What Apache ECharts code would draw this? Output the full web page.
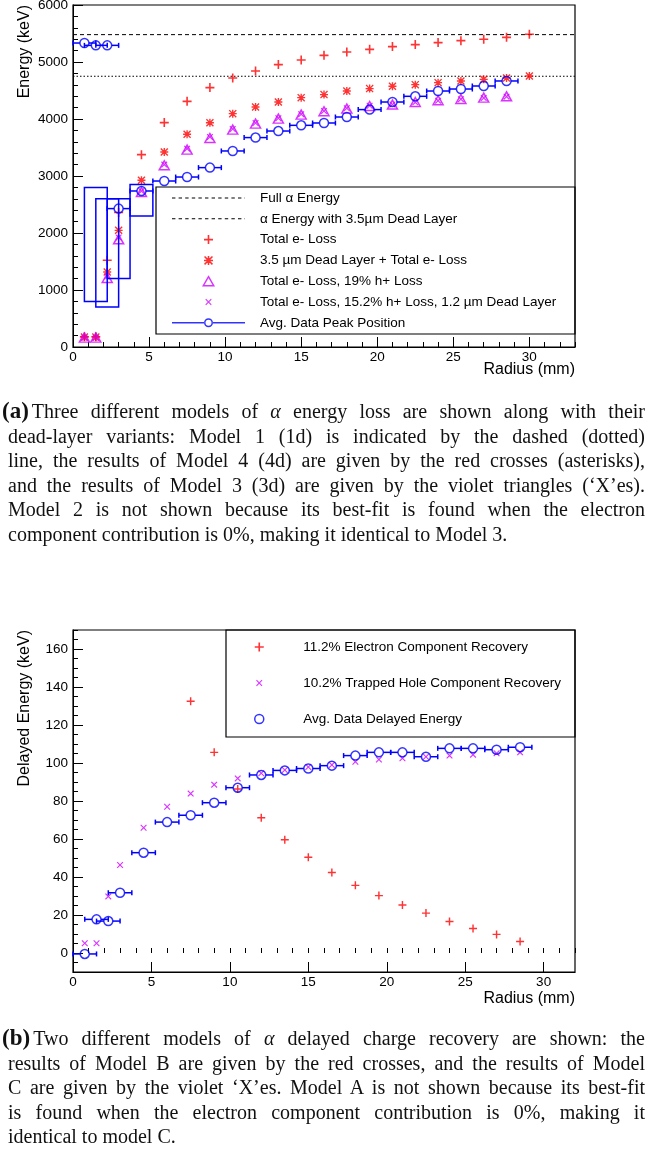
<!DOCTYPE html>
<html>
<head>
<meta charset="utf-8">
<script src="https://cdn.jsdelivr.net/npm/echarts@6.0.0/dist/echarts.min.js"></script>
<style>
html,body{margin:0;padding:0;background:#ffffff;width:646px;height:1149px;overflow:hidden;}
#chart{position:absolute;left:0;top:0;width:646px;height:1149px;}
.ln{position:absolute;font-family:'Liberation Serif','Times New Roman',serif;font-size:20px;line-height:24px;height:24px;color:#111;overflow:visible;}
.j{text-align:justify;text-align-last:justify;}
.tag{font-weight:bold;font-size:23px;margin-right:3px;}
</style>
</head>
<body>
<div id="chart"></div>
<div id="captions"></div>
<script>
// ================= Panel (a) data =================
const radiusModelA = [0.75,1.5,2.25,3,4.5,6,7.5,9,10.5,12,13.5,15,16.5,18,19.5,21,22.5,24,25.5,27,28.5,30];
const totalELoss = [180,180,1521,2360,3375,3937,4310,4551,4720,4842,4954,5035,5117,5175,5222,5270,5305,5340,5375,5398,5433,5486];
const deadLayerTotalELoss = [175,175,1316,2047,2925,3421,3732,3935,4094,4211,4298,4375,4428,4491,4533,4574,4603,4638,4667,4696,4719,4754];
const radiusHoleA = [0.75,1.5,2.25,3,4.5,6,7.5,9,10.5,12,13.5,15,16.5,18,19.5,21,22.5,24,25.5,27,28.5];
const holeLoss19 = [165,165,1211,1889,2719,3188,3463,3667,3814,3919,4007,4077,4135,4182,4228,4253,4298,4328,4351,4375,4398];
const holeLoss152Dead12 = [160,160,1240,1920,2735,3200,3480,3685,3825,3930,4015,4085,4140,4190,4232,4255,4292,4322,4348,4370,4392];
const radiusDataA = [0.75,1.5,2.25,3,4.5,6,7.5,9,10.5,12,13.5,15,16.5,18,19.5,21,22.5,24,25.5,27,28.5];
const peakPosition = [5333,5292,5292,2428,2737,2912,2982,3147,3439,3674,3789,3889,3930,4035,4165,4298,4398,4491,4526,4579,4667];
const peakRadiusErr = [0.75,0.75,0.75,0.75,0.75,0.75,0.75,0.75,0.75,0.75,0.75,0.75,0.75,0.75,0.75,0.75,0.75,0.75,0.75,0.75,0.75];
const alphaLineRadius = [0, 33];
const fullAlphaEnergy = [5480, 5480];
const deadLayerAlphaEnergy = [4750, 4750];
const boxX0 = [0.75, 1.5, 2.25, 3.75];
const boxX1 = [2.25, 3.0, 3.75, 5.25];
const boxYLow = [800, 700, 1200, 2300];
const boxYHigh = [2800, 2600, 2600, 2850];

// ================= Panel (b) data =================
const radiusElectronB = [7.5,9,10.5,12,13.5,15,16.5,18,19.5,21,22.5,24,25.5,27,28.5];
const electronRecovery = [132.5,105.6,86.3,71.2,59.6,50.4,42.4,35.6,30.2,25.3,21.0,16.6,12.9,9.8,6.1];
const radiusB = [0.75,1.5,2.25,3,4.5,6,7.5,9,10.5,12,13.5,15,16.5,18,19.5,21,22.5,24,25.5,27,28.5];
const holeRecovery = [5.1,5.1,29.8,46.3,65.9,77.0,83.9,88.6,91.9,94.6,96.3,97.9,99.0,100.7,101.8,102.5,103.3,103.9,104.4,105.1,105.6];
const delayedEnergy = [-0.5,17.7,16.8,31.7,52.8,68.9,72.5,79.1,87.0,93.7,96.1,97.1,98.6,103.9,105.6,105.6,103.3,107.7,107.7,107.0,108.3];
const delayedRadiusErr = [0.75,0.75,0.75,0.75,0.75,0.75,0.75,0.75,0.75,0.75,0.75,0.75,0.75,0.75,0.75,0.75,0.75,0.75,0.75,0.75,0.75];

// ================= tick labels =================
const yTicksB = [0,20,40,60,80,100,120,140,160];

// ================= captions =================
const captionA = [
  '<span class="tag">(a)</span>Three different models of <i>α</i> energy loss are shown along with their',
  'dead-layer variants: Model 1 (1d) is indicated by the dashed (dotted)',
  'line, the results of Model 4 (4d) are given by the red crosses (asterisks),',
  'and the results of Model 3 (3d) are given by the violet triangles (‘X’es).',
  'Model 2 is not shown because its best-fit is found when the electron',
  'component contribution is 0%, making it identical to Model 3.'
];
const captionB = [
  '<span class="tag">(b)</span>Two different models of <i>α</i> delayed charge recovery are shown: the',
  'results of Model B are given by the red crosses, and the results of Model',
  'C are given by the violet ‘X’es. Model A is not shown because its best-fit',
  'is found when the electron component contribution is 0%, making it',
  'identical to model C.'
];

(function buildCaptions(){
  const host = document.getElementById('captions');
  function put(lines, firstCenter, step){
    lines.forEach((t, i) => {
      const d = document.createElement('div');
      const last = i === lines.length - 1;
      d.className = 'ln' + (last ? '' : ' j');
      d.style.left = (i === 0 ? 2 : 8) + 'px';
      d.style.width = (i === 0 ? 643 : 637) + 'px';
      d.style.top = (firstCenter - 12 + i * step) + 'px';
      d.innerHTML = t;
      host.appendChild(d);
    });
  }
  put(captionA, 411, 24.5);
  put(captionB, 1038, 24.5);
})();

// ================= styles =================
const FONT = '"Liberation Sans", Arial, Helvetica, sans-serif';
const RED = '#ff0000', VIOLET = '#d000ff', BLUE = '#0000ff', BLACK = '#000000';
const TICK_FONT = 13.5;

const PLUS = 'path://M4.1,0H5.9V4.1H10V5.9H5.9V10H4.1V5.9H0V4.1H4.1Z';
const XPATH = 'M9.19,0L10.46,1.27L6.5,5.23L10.46,9.19L9.19,10.46L5.23,6.5L1.27,10.46L0,9.19L3.96,5.23L0,1.27L1.27,0L5.23,3.96Z';
const XMARK = 'path://' + XPATH;
const XMARK_LEGEND = 'path://M-2.2,-2.2Z' + XPATH + 'M12.66,12.66Z';
const STAR = 'path://M4.33,0H6.13V4.33H10.46V6.13H6.13V10.46H4.33V6.13H0V4.33H4.33Z' + XPATH;
const TRI = 'path://M5,0L10,8.66L0,8.66Z';

function dashIcon(w, dash, gap, h){
  let s = 'path://';
  for (let x = 0; x < w; x += dash + gap) {
    const e = Math.min(x + dash, w);
    s += 'M' + x.toFixed(2) + ',0H' + e.toFixed(2) + 'V' + h + 'H' + x.toFixed(2) + 'Z';
  }
  return s;
}
const LINE_CIRCLE_ICON = 'path://M0,3.75H32.2V5.25H0Z M40.8,3.75H73V5.25H40.8Z M32,4.5A4.5,4.5 0 1 0 41,4.5A4.5,4.5 0 1 0 32,4.5Z M33.5,4.5A3,3 0 1 1 39.5,4.5A3,3 0 1 1 33.5,4.5Z';

function pairs(xs, ys){ return xs.map((x, i) => [x, ys[i]]); }
const plain = v => String(v);

function majorX(gridIndex, max){
  return {type:'value', gridIndex, min:0, max, interval:5, position:'bottom',
    axisLine:{show:true, onZero:false, lineStyle:{color:BLACK, width:1}},
    axisTick:{show:true, inside:true, length:10, lineStyle:{color:BLACK, width:1}},
    axisLabel:{show:true, margin:3, color:BLACK, fontSize:TICK_FONT, fontFamily:FONT, showMaxLabel:false, formatter:plain},
    splitLine:{show:false}};
}
function minorX(gridIndex, max){
  return {type:'value', gridIndex, min:0, max, interval:1, position:'bottom',
    axisLine:{show:false}, axisTick:{show:true, inside:true, length:5, lineStyle:{color:BLACK, width:1}},
    axisLabel:{show:false}, splitLine:{show:false}};
}
function yAxisCommon(gridIndex, min, max){
  return {type:'value', gridIndex, min, max, position:'left',
    axisLine:{show:true, onZero:false, lineStyle:{color:BLACK, width:1}},
    axisTick:{show:true, inside:true, length:10, lineStyle:{color:BLACK, width:1}},
    axisLabel:{show:true, margin:5, color:BLACK, fontSize:TICK_FONT, fontFamily:FONT, formatter:plain},
    splitLine:{show:false}};
}
function minorY(gridIndex, min, max, interval){
  return {type:'value', gridIndex, min, max, interval, position:'left',
    axisLine:{show:false}, axisTick:{show:true, inside:true, length:5, lineStyle:{color:BLACK, width:1}},
    axisLabel:{show:false}, splitLine:{show:false}};
}

function errBar(color, gap, cap){
  return function(params, api){
    const x = api.value(0), y = api.value(1), lo = api.value(2), hi = api.value(3);
    const c = api.coord([x, y]), a = api.coord([lo, y]), b = api.coord([hi, y]);
    const st = {stroke: color, lineWidth: 1.5};
    return {type:'group', children:[
      {type:'line', shape:{x1:a[0], y1:c[1], x2:c[0]-gap, y2:c[1]}, style:st},
      {type:'line', shape:{x1:c[0]+gap, y1:c[1], x2:b[0], y2:c[1]}, style:st},
      {type:'line', shape:{x1:a[0], y1:c[1]-cap, x2:a[0], y2:c[1]+cap}, style:st},
      {type:'line', shape:{x1:b[0], y1:c[1]-cap, x2:b[0], y2:c[1]+cap}, style:st}
    ]};
  };
}
function boxRender(params, api){
  const p0 = api.coord([api.value(0), api.value(3)]);
  const p1 = api.coord([api.value(1), api.value(2)]);
  return {type:'rect', shape:{x:p0[0], y:p0[1], width:p1[0]-p0[0], height:p1[1]-p0[1]},
    style:{fill:'none', stroke:BLUE, lineWidth:1.5}};
}

const nFull = 'Full α Energy';
const nDead = 'α Energy with 3.5µm Dead Layer';
const nTot = 'Total e- Loss';
const nTotDead = '3.5 µm Dead Layer + Total e- Loss';
const nH19 = 'Total e- Loss, 19% h+ Loss';
const nH15 = 'Total e- Loss, 15.2% h+ Loss, 1.2 µm Dead Layer';
const nPeak = 'Avg. Data Peak Position';
const nElec = '11.2% Electron Component Recovery';
const nHole = '10.2% Trapped Hole Component Recovery';
const nDelay = 'Avg. Data Delayed Energy';

const chart = echarts.init(document.getElementById('chart'), null, {renderer:'canvas'});
const option = {
  animation:false,
  backgroundColor:'#ffffff',
  grid:[
    {left:73, top:5, width:502, height:342, show:true, borderColor:BLACK, borderWidth:1.2, backgroundColor:'transparent', containLabel:false, outerBoundsMode:'none'},
    {left:73, top:630, width:502, height:342, show:true, borderColor:BLACK, borderWidth:1.2, backgroundColor:'transparent', containLabel:false, outerBoundsMode:'none'}
  ],
  xAxis:[ majorX(0, 33), minorX(0, 33), majorX(1, 32), minorX(1, 32) ],
  yAxis:[
    Object.assign(yAxisCommon(0, 0, 6000), {interval:1000}),
    minorY(0, 0, 6000, 200),
    (function(){ const a = yAxisCommon(1, -10, 170);
      a.axisTick.customValues = yTicksB; a.axisLabel.customValues = yTicksB; return a; })(),
    minorY(1, -10, 170, 5)
  ],
  legend:[
    {left:172, top:191, orient:'vertical', padding:0, itemWidth:73, itemHeight:9, itemGap:6.8, selectedMode:false,
     textStyle:{fontSize:13.5, fontFamily:FONT, color:BLACK, lineHeight:14, padding:[0,0,0,10]},
     data:[
       {name:nFull, icon:dashIcon(73, 3.4, 3.2, 1.1), itemStyle:{color:BLACK, borderWidth:0}},
       {name:nDead, icon:dashIcon(73, 3.4, 3.2, 1.1), itemStyle:{color:BLACK, borderWidth:0}},
       {name:nTot},
       {name:nTotDead},
       {name:nH19, itemStyle:{color:'rgba(0,0,0,0)', borderColor:VIOLET, borderWidth:1.5}},
       {name:nH15, icon:XMARK_LEGEND},
       {name:nPeak, icon:LINE_CIRCLE_ICON, itemStyle:{color:BLUE, borderWidth:0}}
     ]},
    {left:254, top:640, orient:'vertical', padding:0, itemWidth:30, itemHeight:9, itemGap:22, selectedMode:false,
     textStyle:{fontSize:13.5, fontFamily:FONT, color:BLACK, lineHeight:14, padding:[0,0,0,24]},
     data:[
       {name:nElec},
       {name:nHole, icon:XMARK_LEGEND},
       {name:nDelay, itemStyle:{color:'rgba(0,0,0,0)', borderColor:BLUE, borderWidth:1.5}}
     ]}
  ],
  graphic:[
    {type:'rect', shape:{x:156, y:187, width:419, height:147}, style:{fill:'none', stroke:BLACK, lineWidth:1.2}, z:10, silent:true},
    {type:'rect', shape:{x:226, y:630, width:349, height:107}, style:{fill:'none', stroke:BLACK, lineWidth:1.2}, z:10, silent:true},
    {type:'text', x:25, y:5, rotation:Math.PI/2, silent:true,
     style:{text:'Energy (keV)', font:'16px ' + FONT, fill:BLACK, align:'right', verticalAlign:'middle', textAlign:'right', textVerticalAlign:'middle'}},
    {type:'text', x:575, y:370, silent:true,
     style:{text:'Radius (mm)', font:'16px ' + FONT, fill:BLACK, align:'right', verticalAlign:'middle', textAlign:'right', textVerticalAlign:'middle'}},
    {type:'text', x:25, y:630, rotation:Math.PI/2, silent:true,
     style:{text:'Delayed Energy (keV)', font:'16px ' + FONT, fill:BLACK, align:'right', verticalAlign:'middle', textAlign:'right', textVerticalAlign:'middle'}},
    {type:'text', x:575, y:999, silent:true,
     style:{text:'Radius (mm)', font:'16px ' + FONT, fill:BLACK, align:'right', verticalAlign:'middle', textAlign:'right', textVerticalAlign:'middle'}}
  ],
  series:[
    {name:nFull, type:'line', xAxisIndex:0, yAxisIndex:0, data:pairs(alphaLineRadius, fullAlphaEnergy), symbol:'none',
     lineStyle:{color:BLACK, width:1, type:[4,3]}, itemStyle:{color:BLACK}, silent:true, z:1},
    {name:nDead, type:'line', xAxisIndex:0, yAxisIndex:0, data:pairs(alphaLineRadius, deadLayerAlphaEnergy), symbol:'none',
     lineStyle:{color:BLACK, width:1, type:[1.5,2]}, itemStyle:{color:BLACK}, silent:true, z:1},
    {name:nTot, type:'scatter', xAxisIndex:0, yAxisIndex:0, data:pairs(radiusModelA, totalELoss), symbol:PLUS, symbolSize:9,
     itemStyle:{color:RED}, silent:true, z:3},
    {name:nTotDead, type:'scatter', xAxisIndex:0, yAxisIndex:0, data:pairs(radiusModelA, deadLayerTotalELoss), symbol:STAR, symbolSize:8,
     itemStyle:{color:RED}, silent:true, z:3},
    {name:nH19, type:'scatter', xAxisIndex:0, yAxisIndex:0, data:pairs(radiusHoleA, holeLoss19), symbol:TRI, symbolSize:[10,9],
     itemStyle:{color:'rgba(0,0,0,0)', borderColor:VIOLET, borderWidth:1.5}, silent:true, z:3},
    {name:nH15, type:'scatter', xAxisIndex:0, yAxisIndex:0, data:pairs(radiusHoleA, holeLoss152Dead12), symbol:XMARK, symbolSize:6.5,
     itemStyle:{color:VIOLET}, silent:true, z:3},
    {name:'peakErr', type:'custom', xAxisIndex:0, yAxisIndex:0, silent:true, z:4,
     data:radiusDataA.map((x, i) => [x, peakPosition[i], x - peakRadiusErr[i], x + peakRadiusErr[i]]),
     renderItem:errBar(BLUE, 4.5, 2.5)},
    {name:'peakBoxes', type:'custom', xAxisIndex:0, yAxisIndex:0, silent:true, z:4,
     data:boxX0.map((x, i) => [x, boxX1[i], boxYLow[i], boxYHigh[i]]),
     renderItem:boxRender},
    {name:nPeak, type:'scatter', xAxisIndex:0, yAxisIndex:0, data:pairs(radiusDataA, peakPosition), symbol:'circle', symbolSize:9,
     itemStyle:{color:'rgba(0,0,0,0)', borderColor:BLUE, borderWidth:1.5}, silent:true, z:5},

    {name:nElec, type:'scatter', xAxisIndex:2, yAxisIndex:2, data:pairs(radiusElectronB, electronRecovery), symbol:PLUS, symbolSize:8,
     itemStyle:{color:RED}, silent:true, z:3},
    {name:nHole, type:'scatter', xAxisIndex:2, yAxisIndex:2, data:pairs(radiusB, holeRecovery), symbol:XMARK, symbolSize:6.5,
     itemStyle:{color:VIOLET}, silent:true, z:3},
    {name:'delayErr', type:'custom', xAxisIndex:2, yAxisIndex:2, silent:true, z:4,
     data:radiusB.map((x, i) => [x, delayedEnergy[i], x - delayedRadiusErr[i], x + delayedRadiusErr[i]]),
     renderItem:errBar(BLUE, 4.5, 2.5)},
    {name:nDelay, type:'scatter', xAxisIndex:2, yAxisIndex:2, data:pairs(radiusB, delayedEnergy), symbol:'circle', symbolSize:9,
     itemStyle:{color:'rgba(0,0,0,0)', borderColor:BLUE, borderWidth:1.5}, silent:true, z:5}
  ]
};
chart.setOption(option);
</script>
</body>
</html>
